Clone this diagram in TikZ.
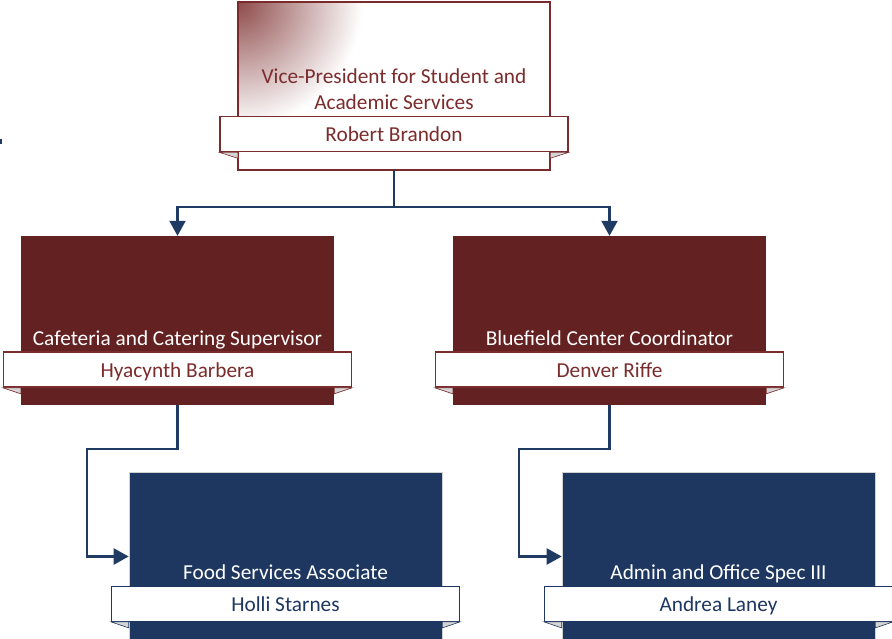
\documentclass[tikz,border=0pt]{standalone}
\usepackage{fontspec}
\setmainfont{Carlito}
\usetikzlibrary{positioning,calc,arrows.meta}

\definecolor{vpred}{HTML}{7A2A2A}
\definecolor{boxred}{HTML}{632121}
\definecolor{namered}{HTML}{7B2C2C}
\definecolor{boxblue}{HTML}{1E3761}
\definecolor{linkblue}{HTML}{1F3A63}
\definecolor{foldgrey}{HTML}{D4D4D4}

\tikzset{
  box/.style={minimum width=313pt, minimum height=169pt, inner sep=0pt},
  redbox/.style={box, fill=boxred},
  bluebox/.style={box, fill=boxblue, draw=gray!35, line width=0.6pt},
  plate/.style={fill=white, minimum width=348pt, minimum height=35pt, inner sep=0pt,
    text height=15pt, text depth=0pt, font=\fontsize{21.3}{26}\selectfont},
  redplate/.style={plate, draw=namered, line width=1.6pt, text=namered},
  blueplate/.style={plate, draw=boxblue, line width=0.8pt, text=boxblue},
  ttl/.style={font=\fontsize{21.3}{26}\selectfont, align=center, inner sep=0pt, text depth=6pt},
  link/.style={draw=linkblue, line width=2.2pt, -{Triangle[length=15pt,width=16pt]}},
  fold/.style={fill=foldgrey, draw=#1, line width=0.6pt}
}

\begin{document}
\begin{tikzpicture}[x=1pt,y=1pt]
\useasboundingbox (0,0) rectangle (892,-638);

% top box
\node[box, minimum width=312pt, minimum height=168pt] (vp) at (394,-86) {};
\begin{scope}
\clip (vp.south west) rectangle (vp.north east);
\fill[white] (vp.south west) rectangle (vp.north east);
\shade[inner color=vpred!85, outer color=white] (vp.north west) circle (125pt);
\end{scope}
\draw[vpred, line width=1.6pt] (vp.south west) rectangle (vp.north east);

% second row
\node[redbox] (cafe) at (177.5,-320.5) {};
\node[redbox] (bcc) at (609.5,-320.5) {};

% third row
\node[bluebox] (food) at (285.5,-556.5) {};
\node[bluebox] (admin) at (718.5,-556.5) {};

% name plates
\node[redplate] (vpname) at ($(vp.center)+(0,-48)$) {Robert Brandon};
\node[redplate] (cafename) at ($(cafe.center)+(0,-49)$) {Hyacynth Barbera};
\node[redplate] (bccname) at ($(bcc.center)+(0,-49)$) {Denver Riffe};
\node[blueplate] (foodname) at ($(food.center)+(0,-47.5)$) {Holli Starnes};
\node[blueplate] (adminname) at ($(admin.center)+(0,-47.5)$) {Andrea Laney};

% folds
\foreach \b/\c in {vp/namered,cafe/namered,bcc/namered,food/boxblue,admin/boxblue}{
  \path[fold=\c] (\b name.south west) -- (\b.west |- \b name.south) -- ++(0,-6) -- cycle;
  \path[fold=\c] (\b name.south east) -- (\b.east |- \b name.south) -- ++(0,-6) -- cycle;
}

% titles
\node[ttl, text=namered, above=0pt of vpname] (vptitle) {Vice-President for Student and\\Academic Services};
\node[ttl, text=white, above=0pt of cafename] (cafetitle) {Cafeteria and Catering Supervisor};
\node[ttl, text=white, above=0pt of bccname] (bcctitle) {Bluefield Center Coordinator};
\node[ttl, text=white, above=0pt of foodname] (foodtitle) {Food Services Associate};
\node[ttl, text=white, above=0pt of adminname] (admintitle) {Admin and Office Spec III};

% connectors
\draw[link] (vp.south) -- ++(0,-37) -| (cafe.north);
\draw[link] (vp.south) -- ++(0,-37) -| (bcc.north);
\draw[link] (cafe.south) -- ++(0,-44) -| ($(food.west)+(-42,0)$) -- (food.west);
\draw[link] (bcc.south) -- ++(0,-44) -| ($(admin.west)+(-43,0)$) -- (admin.west);

\fill[linkblue] (0,-139) rectangle (1.5,-144);
\end{tikzpicture}
\end{document}
